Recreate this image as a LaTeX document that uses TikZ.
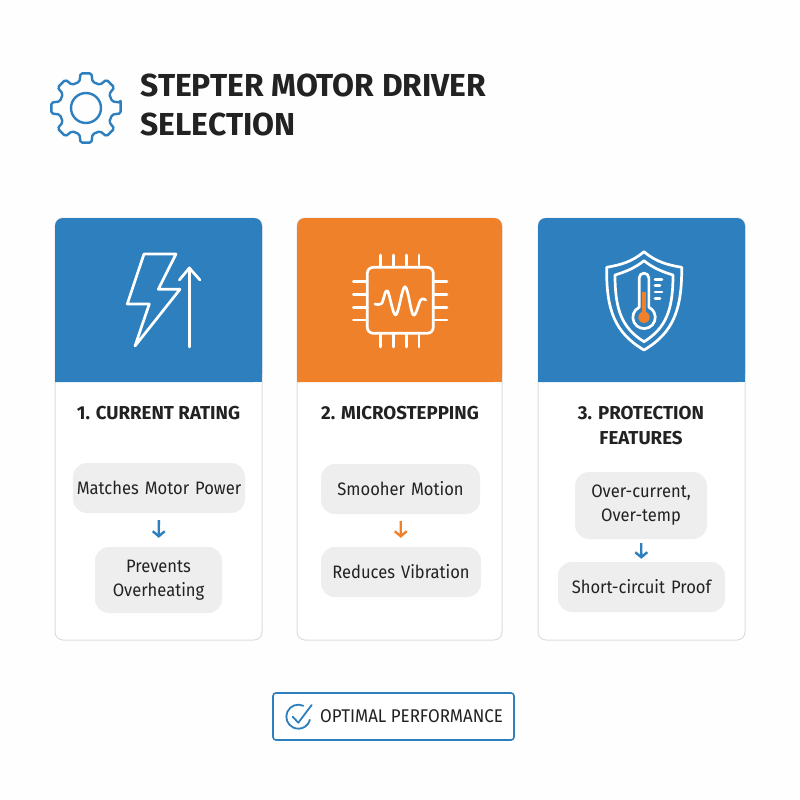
\documentclass[tikz,border=0pt]{standalone}
\usepackage{fontspec}
\setmainfont{Fira Sans}
\newfontfamily\pillfont{Fira Sans}[FakeStretch=0.92]
\usetikzlibrary{arrows.meta}
\definecolor{cardblue}{HTML}{2E7FBD}
\definecolor{cardorange}{HTML}{F0812B}
\definecolor{pillgray}{HTML}{EEEEEE}
\definecolor{cardline}{HTML}{DDDDDD}
\definecolor{inkdark}{HTML}{222222}
\definecolor{pagewhite}{HTML}{FEFEFE}
\newcommand{\cardbox}[3]{
	\draw[cardline, line width=1pt, fill=white, rounded corners=8] (#1,218) rectangle (#2,640);
	\fill[#3, rounded corners=8] (#1,382) -- (#1,218) -- (#2,218) -- (#2,382) [sharp corners] -- cycle;
	\fill[#3] (#1,372) rectangle (#2,382);
}
\begin{document}
\begin{tikzpicture}[x=1pt,y=-1pt,font=\pillfont\fontsize{18}{24}\selectfont,text=inkdark]
		\tikzset{
			icon/.style = { white, line width=2.7pt, line cap=round, line join=round },
			pill/.style = { fill=pillgray, rounded corners=14, align=center, inner sep=0pt, text width=#1 },
			cardtitle/.style = { font=\rmfamily\fontsize{18.7}{25}\selectfont\bfseries, align=center },
			flow/.style = { line width=2.4pt, -{Straight Barb[length=5pt,width=12pt]}, shorten >=9pt, shorten <=7pt },
		}
		\useasboundingbox (0,0) rectangle (800,800);
		\fill[pagewhite] (0,0) rectangle (800,800);
		% heading
		\begin{scope}[shift={(86,108)}]
			\draw[cardblue, line width=2.4pt, line join=round, rounded corners=1.6]
				(-9:35) \foreach \a in {0,45,...,315} {
					-- (\a-9:35) -- (\a+9:35) -- (\a+14:27) -- (\a+31:27)
				} -- cycle;
			\draw[cardblue, line width=2.4pt] (0,0) circle (15);
		\end{scope}
		\node[anchor=west, align=left, font=\rmfamily\fontsize{31.8}{39}\selectfont\bfseries] (heading) at (137,105) {STEPTER MOTOR DRIVER\\SELECTION};
		% cards
		\cardbox{55}{262}{cardblue}
		\cardbox{297}{502}{cardorange}
		\cardbox{538}{745}{cardblue}
		% current icon
		\draw[icon] (144,254) -- (176,254) -- (158.3,289.3) -- (180,289.3) -- (135,346) -- (149.3,304) -- (127.3,304) -- cycle;
		\draw[icon] (189.3,347) -- (189.3,268);
		\draw[icon] (179.3,280) -- (189.3,268) -- (200,280);
		% chip icon
		\draw[icon, rounded corners=6] (367.3,267.3) rectangle (433.3,333.3);
		\foreach \p in {380.7,393.3,406.3,419} {
			\draw[icon] (\p,255) -- (\p,267.3);
			\draw[icon] (\p,333.3) -- (\p,347);
		}
		\foreach \p in {281.7,294.3,307.3,320} {
			\draw[icon] (353.3,\p) -- (367.3,\p);
			\draw[icon] (433.3,\p) -- (447,\p);
		}
		\draw[icon] plot[smooth, tension=0.6] coordinates {(375,304) (381.7,303.3) (387.3,290.7) (395.7,315) (405,286.7) (413.3,315) (420.7,300) (425.7,300)};
		% shield icon
		\draw[icon] (644,251.7) .. controls (632,262) and (620,265) .. (606.7,267.3) .. controls (606,310) and (615,333) .. (644,350)
			.. controls (673,333) and (682,310) .. (681.7,267.3) .. controls (668,265) and (656,262) .. (644,251.7) -- cycle;
		\draw[icon] (644,260.7) .. controls (635,268) and (625,272) .. (615,275) .. controls (615,310) and (622,328) .. (644,341.7)
			.. controls (666,328) and (673,310) .. (673,275) .. controls (663,272) and (653,268) .. (644,260.7) -- cycle;
		\draw[icon] (648.85,307.3) -- (648.85,278) arc (360:180:4.85) -- (639.15,307.3) arc (244:-64:11.2) -- cycle;
		\fill[cardorange] (644,317.3) circle (5.7);
		\fill[cardorange] (641.7,291.7) rectangle (646.3,317);
		\draw[icon] (655,279.3) -- (662,279.3);
		\draw[icon] (655,285.7) -- (660,285.7);
		\draw[icon] (655,292) -- (662,292);
		\draw[icon] (655,298.3) -- (660,298.3);
		% titles
		\node[cardtitle] (currenttitle) at (158.5,413) {1. CURRENT RATING};
		\node[cardtitle] (microtitle) at (400,413) {2. MICROSTEPPING};
		\node[cardtitle] (protecttitle) at (641,425.5) {3. PROTECTION\\FEATURES};
		% steps
		\node[pill=172pt, minimum height=50pt] (matches) at (159,488) {Matches Motor Power};
		\node[pill=127pt, minimum height=66pt] (prevents) at (158.5,580) {Prevents\\Overheating};
		\node[pill=159pt, minimum height=50pt] (smoother) at (400.5,489) {Smooher Motion};
		\node[pill=160pt, minimum height=50pt] (reduces) at (401,572) {Reduces Vibration};
		\node[pill=132pt, minimum height=67pt] (overcurrent) at (641,505.5) {Over-current,\\Over-temp};
		\node[pill=167pt, minimum height=50pt] (shortcircuit) at (641.5,587) {Short-circuit Proof};
		\draw[flow, cardblue] (matches) -- (prevents);
		\draw[flow, cardorange] (smoother) -- (reduces);
		\draw[flow, cardblue, shorten <=4pt, shorten >=3pt] (overcurrent) -- (shortcircuit);
		% result
		\node[draw=cardblue, line width=1.6pt, fill=white, rounded corners=3, minimum width=241pt, minimum height=47pt, inner sep=0pt] (result) at (393.5,716.5) {};
		\node[font=\pillfont\fontsize{18.4}{24}\selectfont, anchor=west, inner sep=0pt] (resulttext) at (320,716.5) {OPTIMAL PERFORMANCE};
		\draw[cardblue, line width=1.8pt, line cap=round] (303.4,705.8) arc (-65:-345:12);
		\draw[cardblue, line width=1.8pt, line cap=round, line join=round] (292.7,716.7) -- (298.3,722.7) -- (311.7,705);
\end{tikzpicture}
\end{document}
